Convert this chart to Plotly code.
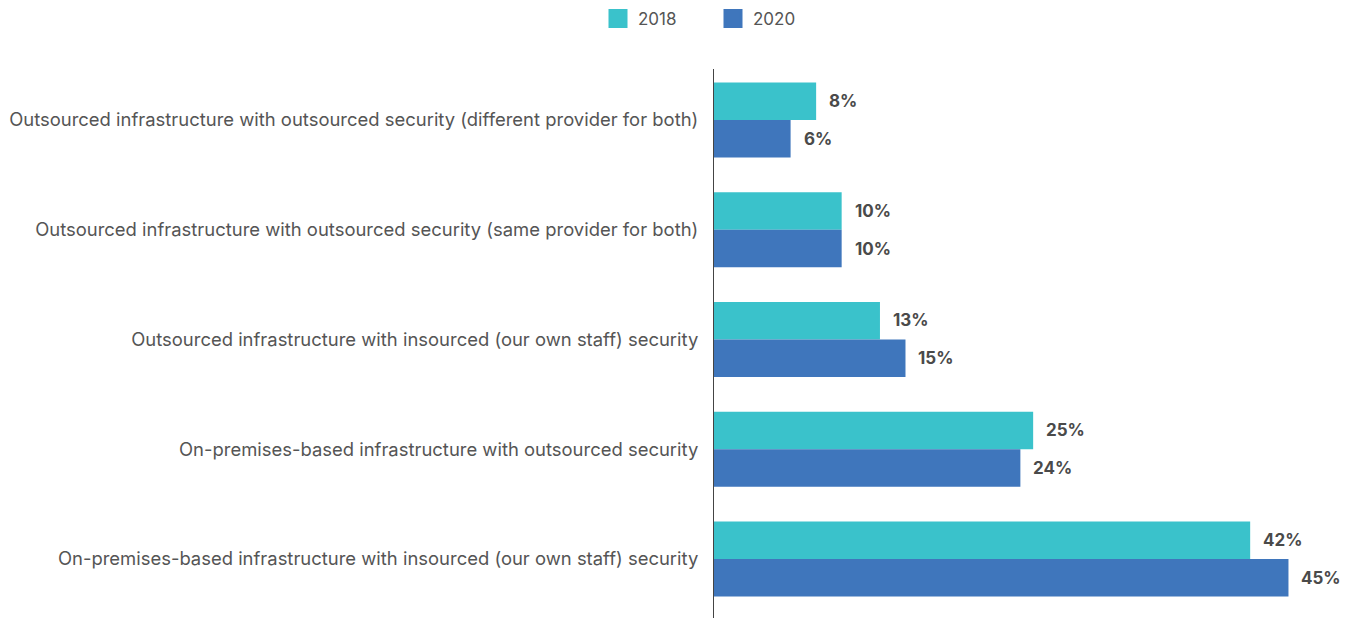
import plotly.graph_objects as go

categories = [
    "Outsourced infrastructure with outsourced security (different provider for both)",
    "Outsourced infrastructure with outsourced security (same provider for both)",
    "Outsourced infrastructure with insourced (our own staff) security",
    "On-premises-based infrastructure with outsourced security",
    "On-premises-based infrastructure with insourced (our own staff) security",
]
values_2018 = [8, 10, 13, 25, 42]
values_2020 = [6, 10, 15, 24, 45]
series_names = ["2018", "2020"]
colors = ["#3AC2CB", "#3F76BC"]

fig = go.Figure()
for name, vals, col in zip(series_names, [values_2018, values_2020], colors):
    fig.add_trace(go.Bar(
        name=name, y=categories, x=vals, orientation="h",
        marker=dict(color=col, line=dict(width=0)),
        hoverinfo="x+y", showlegend=False,
    ))
# legend entries with larger square swatches
for name, col in zip(series_names, colors):
    fig.add_trace(go.Scatter(
        name=name, x=[None], y=[None], mode="markers",
        marker=dict(symbol="square", size=16, color=col, line=dict(width=3, color=col)),
        showlegend=True,
    ))

annotations = []
for vals, shift in [(values_2018, 19), (values_2020, -19)]:
    for c, v in zip(categories, vals):
        annotations.append(dict(
            x=v, y=c, xref="x", yref="y", text=f"<b>{v}%</b>", showarrow=False,
            xanchor="left", xshift=11, yshift=shift,
            font=dict(family="Inter", size=17, color="#4a4a4a"),
        ))

fig.update_layout(
    width=1340, height=610,
    barmode="group", bargap=0.317, bargroupgap=0,
    plot_bgcolor="white", paper_bgcolor="white",
    margin=dict(l=706, r=34, t=61, b=0, autoexpand=False),
    font=dict(family="Inter", color="#555555"),
    legend=dict(orientation="h", x=0.4403, xanchor="left", xref="container",
                y=0.982, yanchor="middle", yref="container",
                font=dict(size=17, color="#555555"),
                traceorder="normal", itemsizing="trace", itemwidth=30,
                entrywidth=70, entrywidthmode="pixels"),
    annotations=annotations,
    showlegend=True,
)
fig.update_yaxes(
    autorange=False, range=[4.538, -0.465],
    showline=True, linecolor="#444444", linewidth=1,
    ticks="", ticklabelstandoff=11, tickfont=dict(size=18.45, color="#555555"),
    showgrid=False, automargin=False,
)
fig.update_xaxes(range=[0, 47], visible=False, showgrid=False, automargin=False)

fig.write_html("out.html")
